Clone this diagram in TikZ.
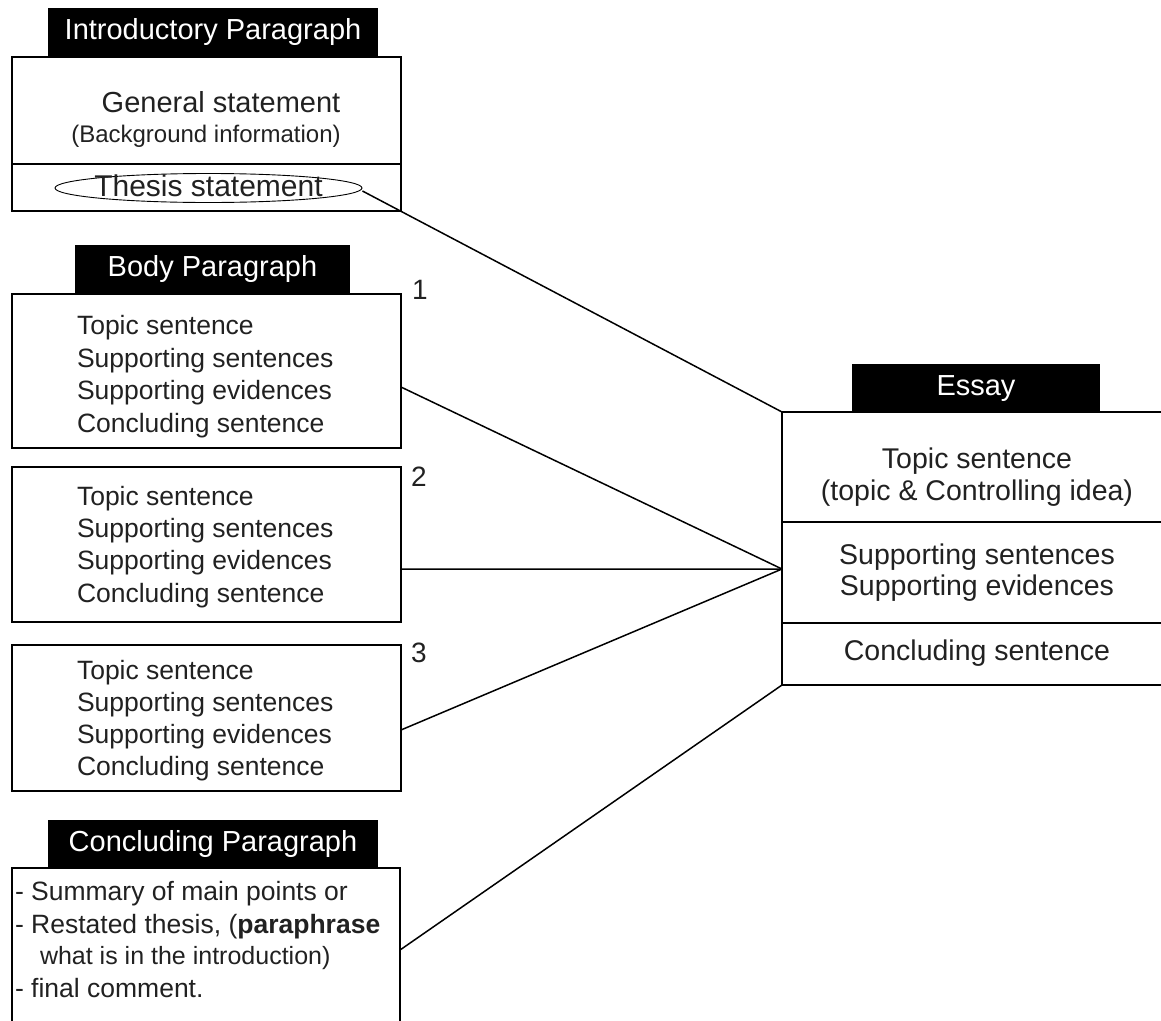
\documentclass[tikz,border=0pt]{standalone}
\usepackage{fontspec}
\setmainfont{Liberation Sans}
\usetikzlibrary{shapes.geometric,calc}
\begin{document}
\begin{tikzpicture}[x=1pt,y=-1pt,
  frame/.style={draw=black,line width=2pt,inner sep=0pt,outer sep=0pt},
  hdr/.style={fill=black,text=white,inner sep=0pt,outer sep=0pt,font=\fontsize{29}{34}\selectfont},
  ltxt/.style={inner sep=0pt,outer sep=0pt,anchor=base west,text=black!87,font=\fontsize{26.5}{32}\selectfont},
  ctxt/.style={inner sep=0pt,outer sep=0pt,anchor=base,text=black!87,font=\fontsize{28.5}{34}\selectfont},
  num/.style={inner sep=0pt,outer sep=0pt,anchor=base west,text=black!87,font=\fontsize{28}{34}\selectfont},
  link/.style={line width=1.5pt},
  sepline/.style={line width=1.1pt},
  esep/.style={line width=1.8pt}]
\useasboundingbox (0,0) rectangle (1161,1020);

% ---------- Introductory paragraph ----------
\node[frame,minimum width=389pt,minimum height=154pt] (intro) at (206.5,134) {};
\node[hdr,minimum width=330pt,minimum height=49pt] (introhdr) at (213,32.5) {Introductory Paragraph};
\draw[sepline] (12,164) -- (401,164);
\node[ctxt,font=\fontsize{29}{34}\selectfont] (gen) at (221,112) {General statement};
\node[ctxt,font=\fontsize{24}{28}\selectfont] (bg) at (206,142) {(Background information)};
\node[draw=black,line width=0.9pt,ellipse,inner sep=0pt,minimum width=307pt,minimum height=29pt] (thesis) at (208.5,188) {};
\node[ctxt,font=\fontsize{30}{34}\selectfont] (thesistxt) at (208.5,196) {Thesis statement};

% ---------- Body paragraphs ----------
\node[hdr,minimum width=275pt,minimum height=48pt] (bodyhdr) at (212.5,269) {Body Paragraph};
\node[frame,minimum width=389pt,minimum height=154pt] (b1) at (206.5,371) {};
\node[frame,minimum width=389pt,minimum height=155pt] (b2) at (206.5,544.5) {};
\node[frame,minimum width=389pt,minimum height=146pt] (b3) at (206.5,718) {};

\node[num] (n1) at (412,299) {1};
\node[num] (n2) at (411,486) {2};
\node[num] (n3) at (411,662) {3};

\foreach \b/\ya/\yb/\yc/\yd in {1/334/367/399/432, 2/505/537/569/602, 3/679/711/743/775}{
  \node[ltxt] (b\b l1) at (77,\ya) {Topic sentence};
  \node[ltxt] (b\b l2) at (77,\yb) {Supporting sentences};
  \node[ltxt] (b\b l3) at (77,\yc) {Supporting evidences};
  \node[ltxt] (b\b l4) at (77,\yd) {Concluding sentence};
}

% ---------- Concluding paragraph ----------
\node[hdr,minimum width=330pt,minimum height=48pt] (conchdr) at (213,844) {Concluding Paragraph};
\draw[line width=2pt] (12,1021) -- (12,868) -- (400,868) -- (400,1021);
\coordinate (concpt) at (400,950);
\node[ltxt] (c1) at (15,900) {- Summary of main points or};
\node[ltxt] (c2) at (15,933) {- Restated thesis, (\textbf{paraphrase}};
\node[ltxt,font=\fontsize{25}{30}\selectfont] (c3) at (40,964) {what is in the introduction)};
\node[ltxt] (c4) at (15,997) {- final comment.};

% ---------- Essay ----------
\node[inner sep=0pt,outer sep=0pt,minimum width=379pt,minimum height=273pt] (essay) at (971.5,548.5) {};
\draw[line width=2pt] (essay.north east) -- (essay.north west) -- (essay.south west) -- (essay.south east);
\node[hdr,minimum width=248pt,minimum height=49pt] (essayhdr) at (976,388.5) {Essay};
\draw[esep] (782,522) -- (1161,522);
\draw[esep] (782,623) -- (1161,623);
\coordinate (ein) at (782,569);
\node[ctxt] (e1) at (977,468) {Topic sentence};
\node[ctxt] (e2) at (977,500) {(topic \& Controlling idea)};
\node[ctxt] (e3) at (977,564) {Supporting sentences};
\node[ctxt] (e4) at (977,595) {Supporting evidences};
\node[ctxt] (e5) at (977,660) {Concluding sentence};

% ---------- Connectors ----------
\coordinate (b1p) at ($(b1.north east)!0.604!(b1.south east)$);
\coordinate (b2p) at ($(b2.north east)!0.658!(b2.south east)$);
\coordinate (b3p) at ($(b3.north east)!0.582!(b3.south east)$);
\draw[link] ($(thesis.east)+(0,3)$) -- (essay.north west);
\draw[link] (b1p) -- (ein);
\draw[link] (b2p) -- (ein);
\draw[link] (b3p) -- (ein);
\draw[link] (concpt) -- (essay.south west);
\end{tikzpicture}
\end{document}
